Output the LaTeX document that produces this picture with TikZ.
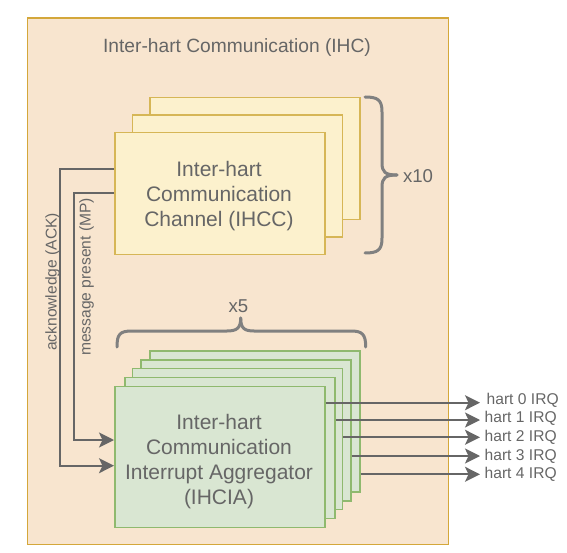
\documentclass[tikz,border=0pt]{standalone}
\usepackage{fontspec}
\setmainfont{Liberation Sans}
\usetikzlibrary{arrows.meta}
\definecolor{outerfill}{HTML}{F8E5CF}
\definecolor{outerdraw}{HTML}{D4A73A}
\definecolor{yelfill}{HTML}{FCF1CD}
\definecolor{yeldraw}{HTML}{D6B656}
\definecolor{grnfill}{HTML}{D9E6D2}
\definecolor{grndraw}{HTML}{8FB96E}
\definecolor{txt}{HTML}{666666}
\definecolor{ln}{HTML}{666666}
\definecolor{brc}{HTML}{808080}
\tikzset{
  outerbox/.style={draw=outerdraw, fill=outerfill, line width=1.8pt},
  ihccbox/.style={draw=yeldraw, fill=yelfill, line width=1.6pt, minimum width=210pt, minimum height=122pt, inner sep=0pt, anchor=north west},
  ihciabox/.style={draw=grndraw, fill=grnfill, line width=1.6pt, minimum width=210pt, minimum height=141pt, inner sep=0pt, anchor=north west},
  boxtext/.style={text=txt, align=center, font=\fontsize{21}{24.9}\selectfont},
  conn/.style={draw=ln, line width=1.8pt},
  arr/.style={conn, -{Stealth[length=15pt, width=15pt, inset=3.5pt]}},
  brace/.style={draw=brc, line width=3pt, line cap=round},
  lbl/.style={text=txt, inner sep=0pt, font=\fontsize{15.6}{18}\selectfont},
}
\begin{document}
\begin{tikzpicture}[x=1pt, y=-1pt]
\useasboundingbox (0,0) rectangle (567,553);
% outer container
\node[outerbox, minimum width=421pt, minimum height=526pt, anchor=north west, inner sep=0pt] (outer) at (26.5,17.5) {};
\node[text=txt, font=\fontsize{19.2}{22}\selectfont] (title) at (237,47.5) {Inter-hart Communication (IHC)};
% IHCC stack
\node[ihccbox] (c3) at (149,96.7) {};
\node[ihccbox] (c2) at (131.7,114.3) {};
\node[ihccbox] (c1) at (114,131.7) {};
\node[boxtext] (c1t) at (219,196) {Inter-hart\\Communication\\Channel (IHCC)};
% IHCIA stack
\node[ihciabox] (a5) at (149,350) {};
\node[ihciabox] (a4) at (140,359) {};
\node[ihciabox] (a3) at (131.7,367.7) {};
\node[ihciabox] (a2) at (124,376.7) {};
\node[ihciabox] (a1) at (114,385.7) {};
\node[boxtext] (a1t) at (219,461.5) {Inter-hart\\Communication\\Interrupt Aggregator\\(IHCIA)};
% braces
\draw[brace] (365,97) .. controls (378,97) and (382,100) .. (382,112) -- (382,163)
  .. controls (382,172) and (385,175) .. (397,175);
\draw[brace] (397,175) .. controls (385,175) and (382,178) .. (382,187) -- (382,238)
  .. controls (382,250) and (378,253) .. (365,253);
\node[text=txt, font=\fontsize{18.6}{22}\selectfont] (x10) at (418,176) {x10};
\draw[brace] (117,347) .. controls (117,334) and (120,331) .. (132,331) -- (227,331)
  .. controls (237,331) and (240.7,328) .. (240.7,318);
\draw[brace] (240.7,318) .. controls (240.7,328) and (244,331) .. (254,331) -- (351,331)
  .. controls (362,331) and (365.7,334) .. (365.7,347);
\node[text=txt, font=\fontsize{18.6}{22}\selectfont] (x5) at (238.5,306) {x5};
% ACK and MP connectors
\coordinate (ackx) at (60,169.3);
\coordinate (mpx) at (74,192.7);
\draw[arr] (c1.west |- ackx) -- (ackx) -- (ackx |- 0,465.7) -- (a1.west |- 0,465.7);
\draw[arr] (c1.west |- mpx) -- (mpx) -- (mpx |- 0,440) -- (a1.west |- 0,440);
\node[lbl, rotate=90] (ack) at (52.5,282) {acknowledge (ACK)};
\node[lbl, rotate=90] (mp) at (86.5,277) {message present (MP)};
% IRQ outputs
\node[lbl, anchor=west] (h0) at (486.5,400.5) {hart 0 IRQ};
\node[lbl, anchor=west] (h1) at (484.5,418.5) {hart 1 IRQ};
\node[lbl, anchor=west] (h2) at (484.5,437) {hart 2 IRQ};
\node[lbl, anchor=west] (h3) at (484.5,456.5) {hart 3 IRQ};
\node[lbl, anchor=west] (h4) at (484.5,474.5) {hart 4 IRQ};
\draw[arr] (a1.east |- 0,402.7) -- (480,402.7);
\draw[arr] (a2.east |- 0,420) -- (480,420);
\draw[arr] (a3.east |- 0,437.3) -- (480,437.3);
\draw[arr] (a4.east |- 0,456) -- (480,456);
\draw[arr] (a5.east |- 0,474.3) -- (480,474.3);
\end{tikzpicture}
\end{document}
